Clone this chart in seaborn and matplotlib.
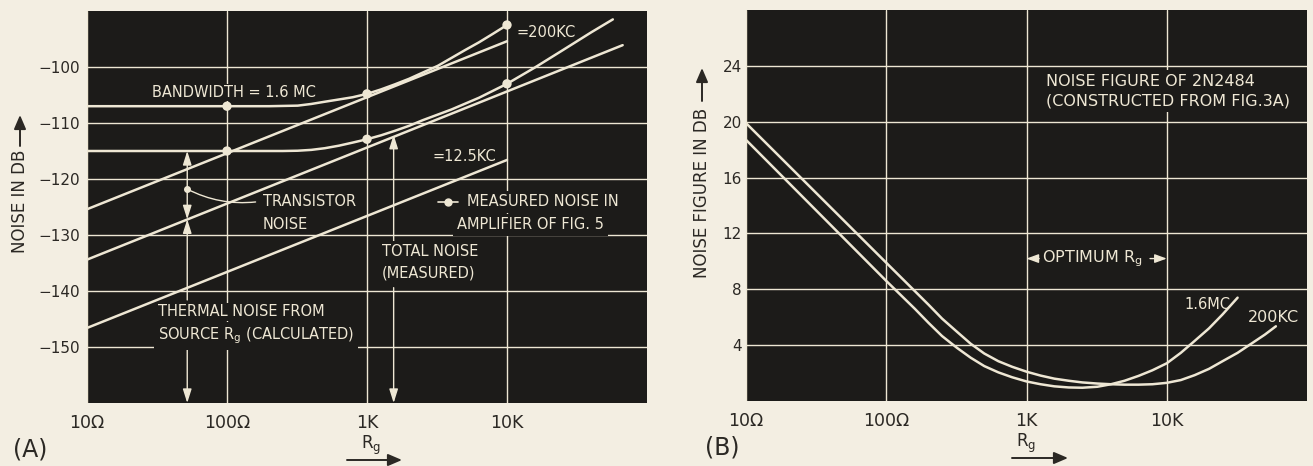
import matplotlib
matplotlib.use("Agg")
import matplotlib.pyplot as plt
import seaborn as sns

# ---- panel A : noise vs source resistance ----
rg_total_16 = [10, 100, 200, 320, 400, 500, 630, 790, 1000, 1260, 1580, 2000, 2500,
               3200, 4000, 5000, 6300, 7900, 10000]
noise_total_16 = [-107, -107, -107, -106.9, -106.6, -106.2, -105.8, -105.4, -104.8, -104.0,
                  -103.1, -102.1, -101.0, -99.8, -98.4, -97.0, -95.6, -94.1, -92.5]

rg_total_200 = [10, 100, 250, 320, 400, 500, 630, 790, 1000, 1260, 1580, 2000, 2500,
                4000, 6300, 10000, 15800, 25000, 40000, 57000]
noise_total_200 = [-115, -115, -115, -114.95, -114.8, -114.5, -114.05, -113.5, -112.9, -112.2,
                   -111.4, -110.5, -109.5, -107.6, -105.5, -103.0, -100.1, -97.0, -93.8, -91.5]

rg_thermal_16 = [10, 10000]
noise_thermal_16 = [-125.4, -95.4]
rg_thermal_200 = [10, 67000]
noise_thermal_200 = [-134.4, -96.1]
rg_thermal_125 = [10, 10000]
noise_thermal_125 = [-146.6, -116.6]

rg_measured = [100, 1000, 10000, 100, 1000, 10000]
noise_measured = [-107, -104.8, -92.5, -115, -112.9, -103]

# ---- panel B : noise figure ----
rg_nf_16 = [10, 100, 160, 200, 250, 320, 400, 500, 630, 790, 1000, 1260, 1580, 2000, 2500,
            3200, 4000, 5000, 6300, 7900, 10000, 12600, 15800, 20000, 25000, 32000]
nf_16 = [18.7, 8.6, 6.6, 5.6, 4.65, 3.8, 3.1, 2.5, 2.05, 1.7, 1.4, 1.2, 1.05, 0.97, 0.95,
         1.02, 1.2, 1.45, 1.8, 2.2, 2.7, 3.45, 4.3, 5.2, 6.2, 7.4]

rg_nf_200 = [10, 100, 200, 250, 320, 400, 500, 630, 790, 1000, 1260, 1580, 2000, 2500, 3200,
             4000, 5000, 6300, 7900, 10000, 12600, 15800, 20000, 25000, 32000, 40000, 50000, 60000]
nf_200 = [19.9, 9.9, 6.9, 5.9, 4.95, 4.1, 3.4, 2.85, 2.45, 2.1, 1.82, 1.6, 1.45, 1.33, 1.25,
          1.2, 1.17, 1.17, 1.2, 1.3, 1.5, 1.85, 2.3, 2.85, 3.45, 4.1, 4.75, 5.35]

x_ticks = [10, 100, 1000, 10000]
x_labels = ["10Ω", "100Ω", "1K", "10K"]
a_ticks = [-100, -110, -120, -130, -140, -150]
b_ticks = [4, 8, 12, 16, 20, 24]

paper = "#f3eee2"
ink = "#1c1b19"
chalk = "#eee7d4"
pen = "#2b2824"

sns.set_theme(style="darkgrid", rc={
    "figure.facecolor": paper,
    "axes.facecolor": ink,
    "grid.color": chalk,
    "grid.linewidth": 1.0,
})
plt.rcParams["font.family"] = ["DejaVu Sans"]

W, H = 1313, 466
fig = plt.figure(figsize=(W / 100, H / 100), dpi=100)
axA = fig.add_axes([87 / W, 1 - 403 / H, 560 / W, 392 / H])
axB = fig.add_axes([746 / W, 1 - 401 / H, 561 / W, 391 / H])

txt = dict(color=chalk, fontsize=10.5, va="center", ha="left", zorder=6)
# captions mask the grid lines behind them, as on the original drawing
mask = dict(txt, bbox=dict(boxstyle="square,pad=0.08", fc=ink, ec="none"))
wide = dict(txt, bbox=dict(boxstyle="square,pad=0.25", fc=ink, ec="none"))


def setup(ax, yticks, ylabels, ylim):
    ax.set_xscale("log")
    ax.set_xlim(10, 100000)
    ax.set_ylim(*ylim)
    ax.set_xticks(x_ticks)
    ax.set_xticklabels(x_labels, fontsize=12.5, color=pen)
    ax.minorticks_off()
    ax.set_yticks(yticks)
    ax.set_yticklabels(ylabels, fontsize=11, color=pen)
    ax.tick_params(length=0, pad=5)
    ax.tick_params(axis="x", pad=8)
    for s in ax.spines.values():
        s.set_visible(False)
    ax.set_axisbelow(True)
    ax.set_xlabel("")
    ax.set_ylabel("")


def curve(ax, x, y):
    sns.lineplot(x=x, y=y, ax=ax, color=chalk, linewidth=1.8,
                 estimator=None, sort=False, legend=False, zorder=3)


# ---------------- panel A ----------------
curve(axA, rg_total_16, noise_total_16)
curve(axA, rg_total_200, noise_total_200)
curve(axA, rg_thermal_16, noise_thermal_16)
curve(axA, rg_thermal_200, noise_thermal_200)
curve(axA, rg_thermal_125, noise_thermal_125)
sns.scatterplot(x=rg_measured, y=noise_measured, ax=axA, color=chalk, s=45,
                edgecolor="none", zorder=5, legend=False)
setup(axA, a_ticks, ["−%d" % abs(v) for v in a_ticks], (-160, -90))

head = "head_length=0.7,head_width=0.22"
both = dict(arrowstyle="<|-|>," + head, color=chalk, lw=1.0, shrinkA=0, shrinkB=0)
up = dict(arrowstyle="-|>," + head, color=chalk, lw=1.0, shrinkA=0, shrinkB=0)
# transistor noise / thermal noise arrows (broken where the captions sit)
axA.annotate("", xy=(52, -115), xytext=(52, -127.2), arrowprops=both, zorder=4)
axA.annotate("", xy=(52, -127.2), xytext=(52, -141.6), arrowprops=up, zorder=4)
axA.annotate("", xy=(52, -160), xytext=(52, -150.3), arrowprops=up, zorder=4)
# total noise arrow
axA.annotate("", xy=(1550, -112.1), xytext=(1550, -131.3), arrowprops=up, zorder=4)
axA.annotate("", xy=(1550, -160), xytext=(1550, -139.4), arrowprops=up, zorder=4)

axA.plot([52], [-121.8], marker="o", ms=4, color=chalk, zorder=5)
axA.annotate("", xy=(160, -124.1), xytext=(52, -121.8),
             arrowprops=dict(arrowstyle="-", color=chalk, lw=1.0,
                             connectionstyle="arc3,rad=0.15", shrinkA=0, shrinkB=0))

axA.text(29, -104.5, "BANDWIDTH = 1.6 MC", **mask)
axA.text(11600, -93.9, "=200KC", **txt)
axA.text(2960, -116.0, "=12.5KC", **txt)
axA.text(181, -124.1, "TRANSISTOR", **mask)
axA.text(181, -128.2, "NOISE", **mask)
axA.plot([3200, 4500], [-124.1, -124.1], color=chalk, lw=1.2, zorder=5)
axA.plot([3800], [-124.1], marker="o", ms=5, color=chalk, zorder=5)
axA.text(5180, -124.1, "MEASURED NOISE IN", **wide)
axA.text(4400, -128.2, "AMPLIFIER OF FIG. 5", **wide)
axA.text(1280, -133.0, "TOTAL NOISE", **wide)
axA.text(1280, -136.8, "(MEASURED)", **wide)
axA.text(32, -143.75, "THERMAL NOISE FROM", **mask)
axA.text(32, -148.0, "SOURCE R$_\\mathrm{g}$ (CALCULATED)", **wide)

# ---------------- panel B ----------------
curve(axB, rg_nf_16, nf_16)
curve(axB, rg_nf_200, nf_200)
setup(axB, b_ticks, [str(v) for v in b_ticks], (0, 28))
axB.tick_params(axis="y", pad=3)

wideB = dict(wide, fontsize=11.5)
axB.text(1370, 22.9, "NOISE FIGURE OF 2N2484", **wideB)
axB.text(1370, 21.5, "(CONSTRUCTED FROM FIG.3A)", **wideB)
axB.text(2960, 10.2, "OPTIMUM R$_\\mathrm{g}$", color=chalk, fontsize=11.5,
         ha="center", va="center", zorder=6)
one = dict(arrowstyle="-|>,head_length=0.6,head_width=0.22", color=chalk, lw=1.0,
           shrinkA=0, shrinkB=0)
axB.annotate("", xy=(1000, 10.2), xytext=(1230, 10.2), arrowprops=one)
axB.annotate("", xy=(10000, 10.2), xytext=(7600, 10.2), arrowprops=one)
axB.text(13400, 6.9, "1.6MC", color=chalk, fontsize=10.5, ha="left", va="center")
axB.text(38000, 6.0, "200KC", color=chalk, fontsize=11.5, ha="left", va="center")

# ---------------- figure labels ----------------
fa = dict(xycoords="figure fraction", textcoords="figure fraction",
          arrowprops=dict(arrowstyle="-|>,head_length=0.7,head_width=0.3",
                          color=pen, lw=1.4, shrinkA=0, shrinkB=0))
fig.text(20 / W, 1 - 201 / H, "NOISE IN DB", rotation=90, fontsize=12,
         color=pen, ha="center", va="center")
fig.axes[0].annotate("", xy=(20 / W, 1 - 115 / H), xytext=(20 / W, 1 - 146 / H), **fa)
fig.text(702 / W, 1 - 193 / H, "NOISE FIGURE IN DB", rotation=90, fontsize=12,
         color=pen, ha="center", va="center")
fig.axes[0].annotate("", xy=(702 / W, 1 - 68 / H), xytext=(702 / W, 1 - 101 / H), **fa)

fig.text(13 / W, 1 - 450 / H, "(A)", fontsize=17, color=pen, va="center")
fig.text(705 / W, 1 - 448 / H, "(B)", fontsize=17, color=pen, va="center")
fig.text(371 / W, 1 - 445 / H, "R$_\\mathrm{g}$", fontsize=12, color=pen,
         ha="center", va="center")
fig.text(1026 / W, 1 - 443 / H, "R$_\\mathrm{g}$", fontsize=12, color=pen,
         ha="center", va="center")
fig.axes[0].annotate("", xy=(402 / W, 1 - 460 / H), xytext=(347 / W, 1 - 460 / H), **fa)
fig.axes[0].annotate("", xy=(1068 / W, 1 - 458 / H), xytext=(1012 / W, 1 - 458 / H), **fa)

fig.savefig("out.png", dpi=100, facecolor=paper)
